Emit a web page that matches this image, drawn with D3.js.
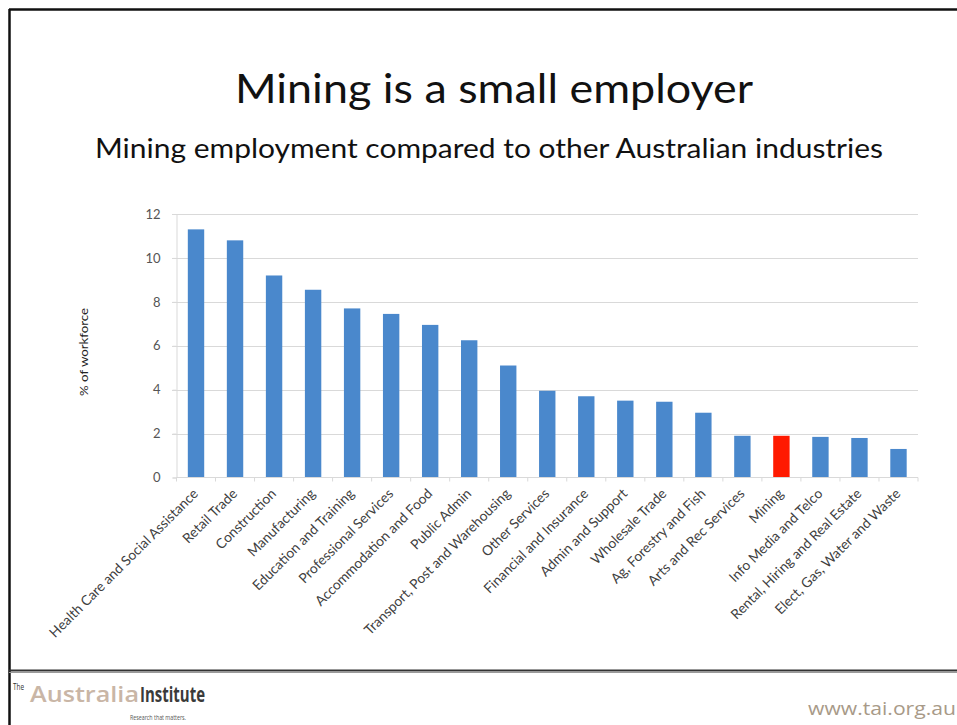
<!DOCTYPE html>
<html>
<head>
<meta charset="utf-8">
<script src="https://cdn.jsdelivr.net/npm/d3@7"></script>
<style>
  html, body { margin: 0; padding: 0; background: #fff; }
  svg { display: block; }
</style>
</head>
<body>
<svg id="slide" width="957" height="725"></svg>
<script>
// Share of the Australian workforce by industry (%)
const industries = [
  "Health Care and Social Assistance", "Retail Trade", "Construction", "Manufacturing",
  "Education and Training", "Professional Services", "Accommodation and Food", "Public Admin",
  "Transport, Post and Warehousing", "Other Services", "Financial and Insurance",
  "Admin and Support", "Wholesale Trade", "Ag, Forestry and Fish", "Arts and Rec Services",
  "Mining", "Info Media and Telco", "Rental, Hiring and Real Estate", "Elect, Gas, Water and Waste"
];
const shares = [11.3, 10.8, 9.2, 8.55, 7.7, 7.45, 6.95, 6.25, 5.1, 3.95, 3.7, 3.5, 3.45, 2.95, 1.9, 1.9, 1.85, 1.8, 1.3];
const highlighted = ["Mining"];
const yTicks = [0, 2, 4, 6, 8, 10, 12];

const titleText = "Mining is a small employer";
const subtitleText = "Mining employment compared to other Australian industries";
const yAxisTitle = "% of workforce";

const svg = d3.select("#slide");
const FONT = "Lato, 'Open Sans', sans-serif";

// slide frame
svg.append("line").attr("x1", 9).attr("x2", 957).attr("y1", 9.5).attr("y2", 9.5)
  .attr("stroke", "#111").attr("stroke-width", 2.5);
svg.append("line").attr("x1", 9.5).attr("x2", 9.5).attr("y1", 9).attr("y2", 725)
  .attr("stroke", "#111").attr("stroke-width", 2.5);

// headings
svg.append("text").attr("x", 494).attr("y", 103).attr("text-anchor", "middle")
  .attr("font-family", FONT).attr("font-size", 41).attr("fill", "#111")
  .attr("textLength", 518).attr("lengthAdjust", "spacingAndGlyphs")
  .text(titleText);
svg.append("text").attr("x", 489).attr("y", 158).attr("text-anchor", "middle")
  .attr("font-family", FONT).attr("font-size", 26).attr("fill", "#111")
  .attr("textLength", 788).attr("lengthAdjust", "spacingAndGlyphs")
  .text(subtitleText);

// chart scales
const x = d3.scaleBand().domain(industries).range([176.5, 918])
  .paddingInner(0.58).paddingOuter(0.29);
const y = d3.scaleLinear().domain([0, 12]).range([477.5, 214]);

const chart = svg.append("g");

// horizontal gridlines
chart.append("g").selectAll("line").data(yTicks.filter(d => d > 0)).join("line")
  .attr("x1", 172).attr("x2", 918)
  .attr("y1", d => Math.round(y(d)) + 0.5).attr("y2", d => Math.round(y(d)) + 0.5)
  .attr("stroke", "#d9d9d9").attr("stroke-width", 1.2);

// y axis
const yAxis = d3.axisLeft(y).tickValues(yTicks).tickSize(4).tickPadding(12);
const gy = chart.append("g").attr("transform", "translate(176.5,0)").call(yAxis);
gy.select(".domain").attr("stroke", "#d9d9d9");
gy.selectAll(".tick line").attr("stroke", "#d9d9d9");
gy.selectAll(".tick text").attr("font-family", FONT).attr("font-size", 13).attr("fill", "#555");

// y axis title
svg.append("text").attr("transform", "translate(88,352) rotate(-90)")
  .attr("text-anchor", "middle").attr("font-family", FONT).attr("font-size", 12)
  .attr("fill", "#222").attr("textLength", 88).attr("lengthAdjust", "spacingAndGlyphs")
  .text(yAxisTitle);

// bars
chart.append("g").selectAll("rect").data(industries).join("rect")
  .attr("x", d => x(d))
  .attr("width", x.bandwidth())
  .attr("y", (d, i) => y(shares[i]))
  .attr("height", (d, i) => y(0) - y(shares[i]))
  .attr("fill", d => highlighted.includes(d) ? "#ff1a00" : "#4a88cc");

// category axis baseline with tick marks between categories
const boundaries = d3.range(industries.length + 1).map(i => x.range()[0] + i * x.step());
chart.append("line").attr("x1", x.range()[0]).attr("x2", x.range()[1])
  .attr("y1", y(0)).attr("y2", y(0)).attr("stroke", "#d9d9d9").attr("stroke-width", 1.2);
chart.append("g").selectAll("line").data(boundaries).join("line")
  .attr("x1", d => d).attr("x2", d => d)
  .attr("y1", y(0)).attr("y2", y(0) + 4)
  .attr("stroke", "#d9d9d9");

// rotated category labels
chart.append("g").selectAll("text").data(industries).join("text")
  .attr("transform", d => `translate(${x(d) + x.bandwidth() / 2 + 3},${y(0) + 17}) rotate(-45)`)
  .attr("text-anchor", "end")
  .attr("font-family", FONT).attr("font-size", 13.8).attr("fill", "#404040")
  .text(d => d);

// footer rule
svg.append("line").attr("x1", 9).attr("x2", 957).attr("y1", 670.5).attr("y2", 670.5)
  .attr("stroke", "#333").attr("stroke-width", 2.2);
svg.append("line").attr("x1", 9).attr("x2", 957).attr("y1", 672.5).attr("y2", 672.5)
  .attr("stroke", "#9a9a9a").attr("stroke-width", 1.2);

// footer logo
const logo = svg.append("g").attr("font-family", "'Liberation Sans Narrow', 'Open Sans', sans-serif");
logo.append("text").attr("x", 13).attr("y", 690).attr("font-size", 9).attr("fill", "#333")
  .attr("textLength", 11).attr("lengthAdjust", "spacingAndGlyphs").text("The");
logo.append("text").attr("x", 30).attr("y", 702).attr("font-size", 22).attr("font-weight", 600)
  .attr("fill", "#c9b6a6")
  .attr("textLength", 109).attr("lengthAdjust", "spacingAndGlyphs").text("Australia");
logo.append("text").attr("x", 140).attr("y", 702).attr("font-size", 22).attr("font-weight", "bold")
  .attr("fill", "#3a3a3a").attr("textLength", 65).attr("lengthAdjust", "spacingAndGlyphs").text("Institute");
logo.append("text").attr("x", 130).attr("y", 720).attr("font-size", 7.5).attr("fill", "#555")
  .attr("textLength", 56).attr("lengthAdjust", "spacingAndGlyphs").text("Research that matters.");

svg.append("text").attr("x", 808).attr("y", 715).attr("font-family", "'Open Sans', sans-serif")
  .attr("font-size", 19).attr("fill", "#a89a88")
  .attr("textLength", 148).attr("lengthAdjust", "spacingAndGlyphs").text("www.tai.org.au");
</script>
</body>
</html>
